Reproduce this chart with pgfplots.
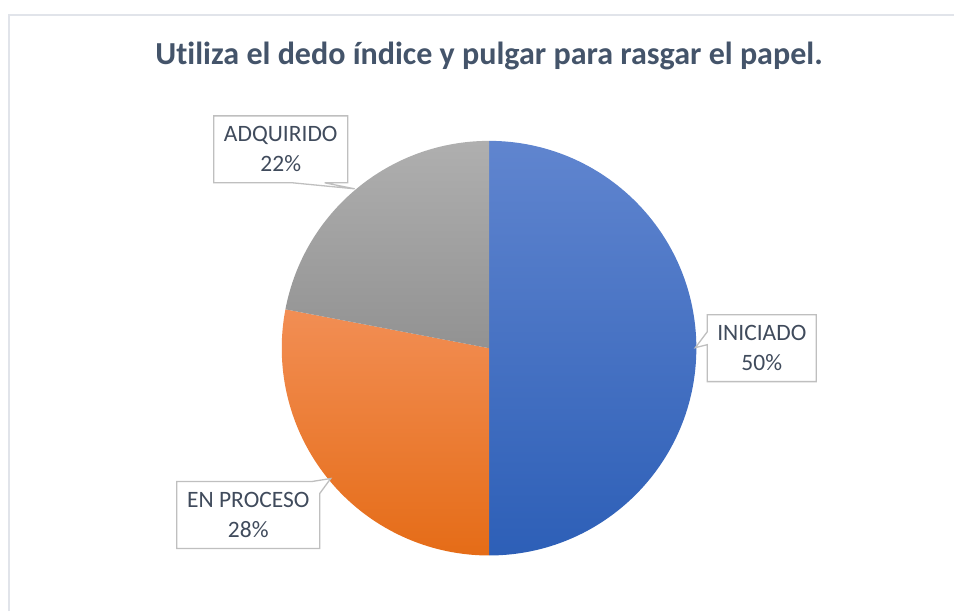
\documentclass[border=0pt]{standalone}
\usepackage{pgfplots}
\pgfplotsset{compat=1.18}
\usepackage{pgfplotstable}
\usepackage{fontspec}
\setmainfont[Ligatures=NoCommon]{Carlito}
\definecolor{titlecol}{HTML}{44546A}
\definecolor{labcol}{HTML}{404B5C}
\definecolor{bordercol}{HTML}{E1E4EA}
\definecolor{boxcol}{HTML}{BFBFBF}
\definecolor{blueTop}{HTML}{6085CF}
\definecolor{blueBot}{HTML}{2D5FB7}
\definecolor{orTop}{HTML}{F28E54}
\definecolor{orBot}{HTML}{E56C17}
\definecolor{grTop}{HTML}{AFAFAF}
\definecolor{grBot}{HTML}{929292}

\pgfplotstableread{
idx value
0 50
1 28
2 22
}\piedata

\begin{document}
\begin{tikzpicture}
\pgfplotstablegetelem{0}{value}\of\piedata \let\vA\pgfplotsretval
\pgfplotstablegetelem{1}{value}\of\piedata \let\vB\pgfplotsretval
\pgfplotstablegetelem{2}{value}\of\piedata \let\vC\pgfplotsretval
\pgfmathsetmacro{\tot}{\vA+\vB+\vC}
\pgfmathsetmacro{\aA}{90}
\pgfmathsetmacro{\aB}{\aA-360*(\vA/\tot)}
\pgfmathsetmacro{\aC}{\aB-360*(\vB/\tot)}
\pgfmathsetmacro{\aD}{\aC-360*(\vC/\tot)}
\begin{axis}[
  width=955bp, height=612bp, scale only axis,
  xmin=0, xmax=955, ymin=0, ymax=612,
  hide axis, clip=false,
]
\path (axis cs:0,0) rectangle (axis cs:955,612);
% chart border
\draw[bordercol, line width=1.8bp] (axis cs:9,0) -- (axis cs:9,597) -- (axis cs:955,597);
% title
\node[anchor=base, text=titlecol, font=\fontsize{32.2}{38}\selectfont\bfseries]
  at (axis cs:489.5,547) {Utiliza el dedo índice y pulgar para rasgar el papel.};
% slices
\path[top color=blueTop, bottom color=blueBot]
  (axis cs:489.5,263.5) -- ++(\aA:207.5bp) arc[start angle=\aA, end angle=\aB, radius=207.5bp] -- cycle;
\path[top color=orTop, bottom color=orBot]
  (axis cs:489.5,263.5) -- ++(\aB:207.5bp) arc[start angle=\aB, end angle=\aC, radius=207.5bp] -- cycle;
\path[top color=grTop, bottom color=grBot]
  (axis cs:489.5,263.5) -- ++(\aC:207.5bp) arc[start angle=\aC, end angle=\aD, radius=207.5bp] -- cycle;
% callouts
\filldraw[fill=white, draw=boxcol, line width=1.3bp]
  (axis cs:214,496) -- (axis cs:348,496) -- (axis cs:348,429) -- (axis cs:325,429)
  -- (axis cs:355,423) -- (axis cs:293,429) -- (axis cs:214,429) -- cycle;
\node[align=center, text=labcol, font=\fontsize{23.6}{30}\selectfont] at (axis cs:281,462.5)
  {ADQUIRIDO\\\vC\%};
\filldraw[fill=white, draw=boxcol, line width=1.3bp]
  (axis cs:177,130) -- (axis cs:312,130) -- (axis cs:331,133) -- (axis cs:320,118)
  -- (axis cs:320,63) -- (axis cs:177,63) -- cycle;
\node[align=center, text=labcol, font=\fontsize{23.6}{30}\selectfont] at (axis cs:248.5,96.5)
  {EN PROCESO\\\vB\%};
\filldraw[fill=white, draw=boxcol, line width=1.3bp]
  (axis cs:708,297) -- (axis cs:817,297) -- (axis cs:817,230) -- (axis cs:708,230)
  -- (axis cs:708,267) -- (axis cs:696,264) -- (axis cs:708,280) -- cycle;
\node[align=center, text=labcol, font=\fontsize{23.6}{30}\selectfont] at (axis cs:762.5,263.5)
  {INICIADO\\\vA\%};
\end{axis}
\end{tikzpicture}
\end{document}
